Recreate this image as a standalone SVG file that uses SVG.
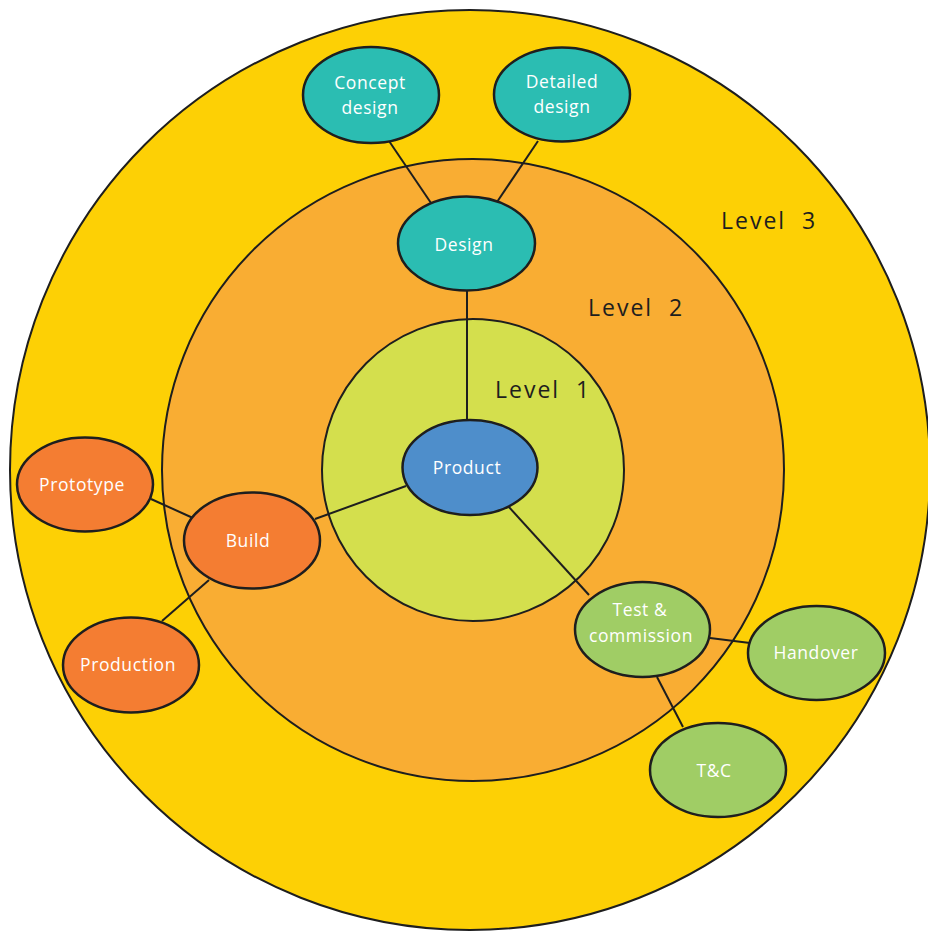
<svg xmlns="http://www.w3.org/2000/svg" width="928" height="933" viewBox="0 0 928 933">
<style>
.ring{stroke:#1e1e1e;stroke-width:2}
.node ellipse{stroke:#1e1e1e;stroke-width:2.5}
.node text{fill:#ffffff;font-family:"Open Sans","Liberation Sans",sans-serif;font-size:17.5px;letter-spacing:0.6px;text-anchor:middle}
.lvl{fill:#1e1e1e;font-family:"Open Sans","Liberation Sans",sans-serif;font-size:23px;letter-spacing:2px;word-spacing:8px}
.teal{fill:#2bbdb2}
.orange{fill:#f47d32}
.lgreen{fill:#a0cd65}
.blue{fill:#4e8ecb}
#connectors line{stroke:#1e1e1e;stroke-width:2;fill:none}
</style>
<rect width="928" height="933" fill="#ffffff"/>
<g id="levels">
<circle class="ring" cx="470" cy="470" r="460" fill="#fdd005"/>
<circle class="ring" cx="473" cy="470" r="311" fill="#f9ad33"/>
<circle class="ring" cx="473" cy="470" r="151" fill="#d4df4d"/>
<text class="lvl" x="721" y="229">Level 3</text>
<text class="lvl" x="588" y="316">Level 2</text>
<text class="lvl" x="495" y="398">Level 1</text>
</g>
<g id="connectors">
<line x1="389" y1="141" x2="431" y2="203"/>
<line x1="538" y1="141" x2="497" y2="202"/>
<line x1="467" y1="290" x2="467" y2="421"/>
<line x1="406" y1="486" x2="315" y2="519"/>
<line x1="508" y1="506" x2="589" y2="595"/>
<line x1="151" y1="499" x2="193" y2="518"/>
<line x1="209" y1="580" x2="162" y2="621"/>
<line x1="710" y1="638" x2="750" y2="643"/>
<line x1="657" y1="677" x2="683" y2="727"/>
</g>
<g id="product" class="node"><ellipse class="blue" cx="470" cy="467.5" rx="67.5" ry="47.5"/><text x="467" y="474">Product</text></g>
<g id="design" class="node"><ellipse class="teal" cx="466.5" cy="243.5" rx="68.5" ry="47"/><text x="464" y="251">Design</text></g>
<g id="concept-design" class="node"><ellipse class="teal" cx="371" cy="95" rx="68" ry="48"/><text x="370" y="89">Concept</text><text x="370" y="114">design</text></g>
<g id="detailed-design" class="node"><ellipse class="teal" cx="562" cy="94.5" rx="68" ry="47"/><text x="562" y="88">Detailed</text><text x="562" y="113">design</text></g>
<g id="build" class="node"><ellipse class="orange" cx="252" cy="540.5" rx="68" ry="48"/><text x="248" y="547">Build</text></g>
<g id="prototype" class="node"><ellipse class="orange" cx="85" cy="484.5" rx="68" ry="47"/><text x="82" y="491">Prototype</text></g>
<g id="production" class="node"><ellipse class="orange" cx="131" cy="665" rx="68" ry="47.5"/><text x="128" y="671">Production</text></g>
<g id="test-commission" class="node"><ellipse class="lgreen" cx="642.5" cy="629.5" rx="67.5" ry="47.5"/><text x="640" y="616">Test &amp;</text><text x="641" y="642">commission</text></g>
<g id="handover" class="node"><ellipse class="lgreen" cx="816.5" cy="653" rx="68.5" ry="47"/><text x="816" y="659">Handover</text></g>
<g id="tc" class="node"><ellipse class="lgreen" cx="718" cy="770" rx="68" ry="47"/><text x="714" y="777">T&amp;C</text></g>
</svg>
